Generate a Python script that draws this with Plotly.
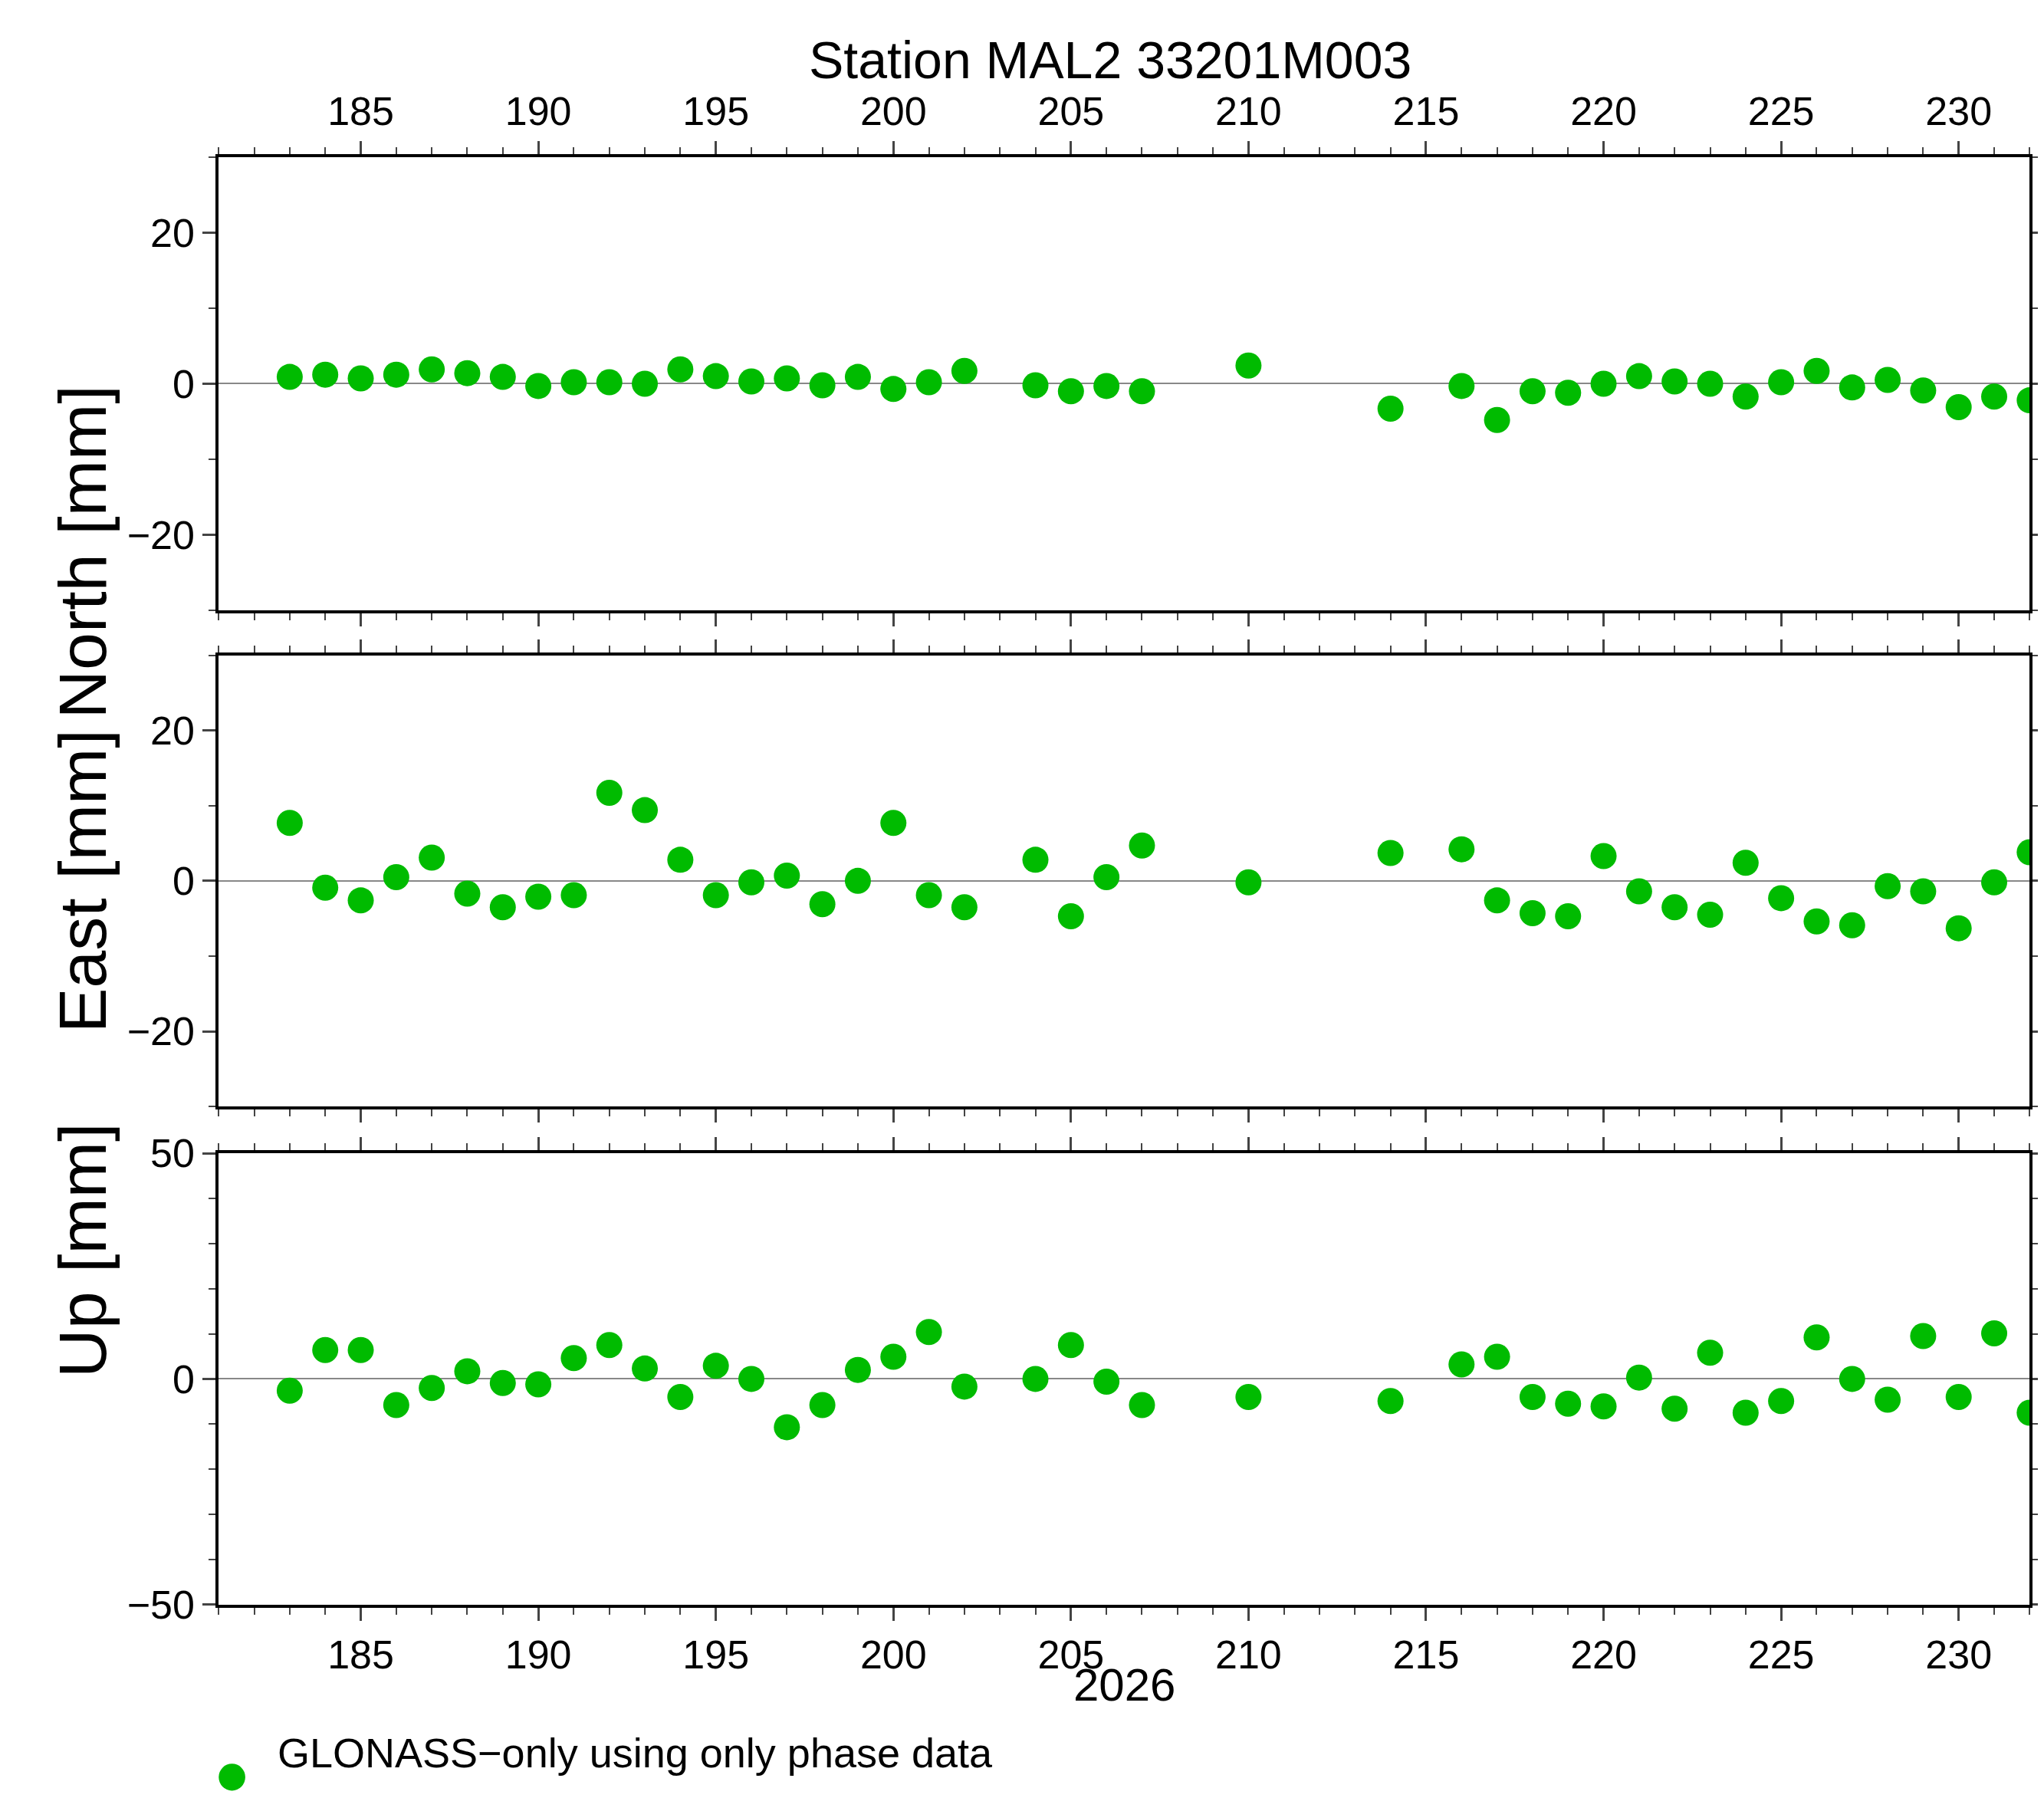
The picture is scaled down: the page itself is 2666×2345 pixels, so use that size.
import plotly.graph_objects as go

days = [183, 184, 185, 186, 187, 188, 189, 190, 191, 192, 193, 194, 195, 196, 197, 198, 199, 200, 201, 202,
        204, 205, 206, 207, 210, 214, 216, 217, 218, 219, 220, 221, 222, 223, 224, 225, 226, 227, 228, 229,
        230, 231, 232]
north = [0.9, 1.2, 0.7, 1.2, 1.9, 1.4, 0.9, -0.3, 0.2, 0.2, 0.0, 1.9, 1.0, 0.3, 0.7, -0.2, 0.9, -0.7, 0.2, 1.7,
         -0.2, -1.0, -0.3, -1.0, 2.4, -3.3, -0.3, -4.8, -1.0, -1.2, 0.0, 1.0, 0.3, 0.0, -1.7, 0.2, 1.7, -0.5, 0.5, -0.9,
         -3.1, -1.7, -2.2]
east = [7.7, -0.9, -2.6, 0.5, 3.1, -1.7, -3.5, -2.1, -1.9, 11.7, 9.4, 2.8, -1.9, -0.2, 0.7, -3.1, 0.0, 7.7, -1.9, -3.5,
        2.8, -4.7, 0.5, 4.7, -0.2, 3.7, 4.2, -2.6, -4.3, -4.7, 3.3, -1.4, -3.5, -4.5, 2.4, -2.3, -5.4, -5.9, -0.7, -1.4,
        -6.3, -0.2, 3.8]
up = [-2.6, 6.4, 6.4, -5.8, -2.0, 1.7, -0.9, -1.2, 4.6, 7.5, 2.3, -4.0, 2.9, 0.0, -10.7, -5.8, 2.0, 4.9, 10.4, -1.7,
      0.0, 7.5, -0.6, -5.8, -4.0, -4.9, 3.2, 4.9, -4.0, -5.5, -6.1, 0.3, -6.6, 5.8, -7.5, -4.9, 9.2, 0.0, -4.6, 9.5,
      -4.0, 10.1, -7.5]

GREEN = "#00bb00"
FONT = "Liberation Sans"
fig = go.Figure()

panels = [("North [mm]", north, [0.664, 0.916], 30, 20, 10),
          ("East [mm]", east, [0.388, 0.639], 30, 20, 10),
          ("Up [mm]", up, [0.111, 0.362], 50, 50, 10)]

for i, (label, vals, dom, lim, dt, mdt) in enumerate(panels):
    n = i + 1
    fig.add_trace(go.Scatter(x=days, y=vals, mode="markers", xaxis=f"x{n}", yaxis=f"y{n}",
                             marker=dict(color=GREEN, size=34), showlegend=False))
    xa = dict(domain=[0.104, 0.990], range=[181, 232], anchor=f"y{n}", dtick=5, tick0=185,
              ticks="outside", ticklen=17, tickwidth=3, showline=True, linewidth=4, linecolor="black",
              mirror="allticks", showgrid=False, zeroline=False, automargin=False,
              tickfont=dict(size=52, family=FONT, color="black"),
              minor=dict(dtick=1, ticks="outside", ticklen=9, tickwidth=2),
              showticklabels=(i in (0, 2)), side="top" if i == 0 else "bottom")
    ya = dict(domain=dom, range=[-lim, lim], anchor=f"x{n}", dtick=dt, automargin=False,
              ticks="outside", ticklen=17, tickwidth=3, showline=True, linewidth=4, linecolor="black",
              mirror="allticks", showgrid=False, zeroline=True, zerolinecolor="#888888", zerolinewidth=1.5,
              tickfont=dict(size=52, family=FONT, color="black"),
              minor=dict(dtick=mdt, ticks="outside", ticklen=9, tickwidth=2))
    fig.update_layout({f"xaxis{n}" if n > 1 else "xaxis": xa, f"yaxis{n}" if n > 1 else "yaxis": ya})
    fig.add_annotation(text=label, xref="paper", yref="paper", x=0.018, y=sum(dom) / 2, textangle=-90,
                       showarrow=False, font=dict(size=88, family=FONT, color="black"))

fig.add_annotation(text="Station MAL2 33201M003", xref="paper", yref="paper", x=0.54, y=0.987,
                   showarrow=False, font=dict(size=68, family=FONT, color="black"))
fig.add_annotation(text="2026", xref="paper", yref="paper", x=0.547, y=0.051,
                   showarrow=False, font=dict(size=60, family=FONT, color="black"))

# legend drawn by hand so the symbol keeps the marker size
fig.add_shape(type="circle", xref="paper", yref="paper", x0=0.104, x1=0.117, y0=0.0075, y1=0.0225,
              fillcolor=GREEN, line=dict(width=0))
fig.add_annotation(text="GLONASS\u2212only using only phase data", xref="paper", yref="paper",
                   x=0.132, y=0.015, xanchor="left", showarrow=False,
                   font=dict(size=54, family=FONT, color="black"))

fig.update_layout(width=2666, height=2345, margin=dict(l=0, r=0, t=0, b=0),
                  paper_bgcolor="white", plot_bgcolor="white", showlegend=False)
fig.write_html("out.html")
